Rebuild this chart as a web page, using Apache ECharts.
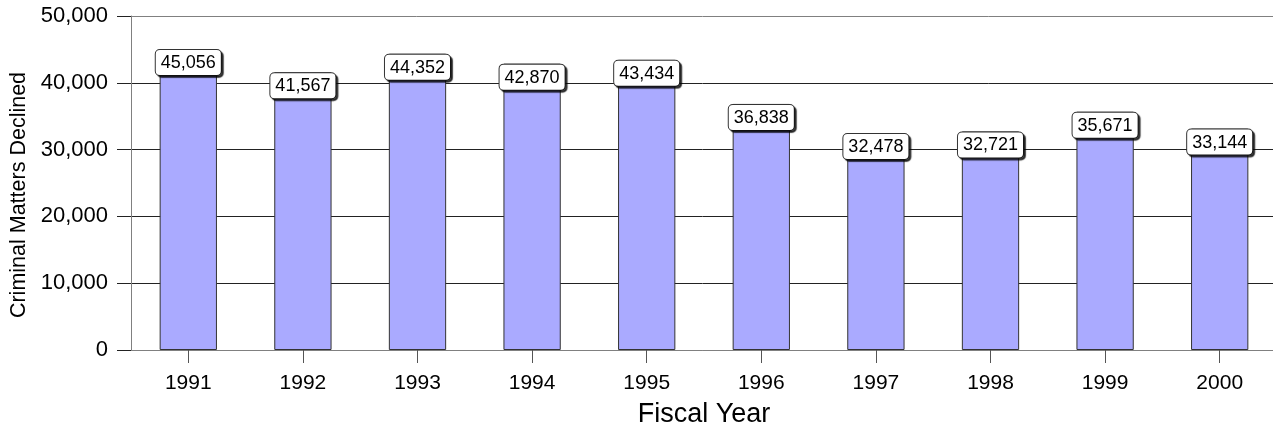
<!DOCTYPE html>
<html>
<head>
<meta charset="utf-8">
<title>Criminal Matters Declined by Fiscal Year</title>
<script src="https://cdn.jsdelivr.net/npm/echarts@6/dist/echarts.min.js"></script>
<style>
  html, body { margin: 0; padding: 0; background: #fff; }
  #chart { width: 1273px; height: 427px; }
</style>
</head>
<body>
<div id="chart"></div>
<script>
// Fiscal years on the category axis
const years = ['1991', '1992', '1993', '1994', '1995', '1996', '1997', '1998', '1999', '2000'];
// Criminal matters declined per fiscal year
const declined = [45056, 41567, 44352, 42870, 43434, 36838, 32478, 32721, 35671, 33144];
// Value axis range and step
const yMin = 0;
const yMax = 50000;
const yStep = 10000;

const FONT = 'Arial, "Liberation Sans", sans-serif';
const withCommas = v => String(v).replace(/\B(?=(\d{3})+(?!\d))/g, ',');

// Gridlines: frame lines (0 and max) grey, inner lines dark
const gridColors = [];
for (let v = yMin; v <= yMax; v += yStep) {
  gridColors.push(v === yMin || v === yMax ? '#808080' : '#222222');
}

const chart = echarts.init(document.getElementById('chart'), null, { renderer: 'canvas' });

chart.setOption({
  animation: false,
  backgroundColor: '#ffffff',
  grid: {
    left: 131, right: -4, top: 16, bottom: 77,
    containLabel: false,
    outerBoundsMode: 'none'
  },
  xAxis: {
    type: 'category',
    data: years,
    name: 'Fiscal Year',
    nameLocation: 'middle',
    nameGap: 51,
    nameTextStyle: { fontFamily: FONT, fontSize: 27, color: '#000' },
    axisLine: { show: true, lineStyle: { color: '#808080', width: 1 } },
    axisTick: { show: true, alignWithLabel: true, length: 13, lineStyle: { color: '#555' } },
    axisLabel: { fontFamily: FONT, fontSize: 21, color: '#000', margin: 23 },
    splitLine: { show: false }
  },
  yAxis: {
    type: 'value',
    min: yMin,
    max: yMax,
    interval: yStep,
    name: 'Criminal Matters Declined',
    nameLocation: 'middle',
    nameGap: 100,
    nameTextStyle: { fontFamily: FONT, fontSize: 21.5, color: '#000', padding: [0, 24, 0, 0] },
    axisLine: { show: true, lineStyle: { color: '#808080', width: 1 } },
    axisTick: { show: true, length: 14, lineStyle: { color: '#222' } },
    axisLabel: { fontFamily: FONT, fontSize: 22, color: '#000', margin: 23, formatter: withCommas },
    splitLine: { show: true, lineStyle: { color: gridColors, width: 1 } }
  },
  series: [{
    type: 'bar',
    data: declined,
    barWidth: '50%',
    itemStyle: { color: '#aaaaff', borderColor: '#333', borderWidth: 1 },
    label: {
      show: true,
      position: 'insideTop',
      distance: 1,
      formatter: p => withCommas(p.value),
      fontFamily: FONT,
      fontSize: 18,
      lineHeight: 18,
      color: '#000',
      backgroundColor: '#ffffff',
      borderColor: '#333',
      borderWidth: 1,
      borderRadius: 4,
      padding: [4, 5, 3, 5],
      shadowColor: 'rgba(0,0,0,0.7)',
      shadowBlur: 1,
      shadowOffsetX: 2,
      shadowOffsetY: 2
    }
  }]
});
</script>
</body>
</html>
